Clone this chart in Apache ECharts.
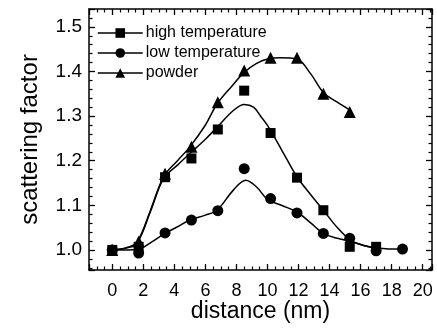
<!DOCTYPE html>
<html>
<head>
<meta charset="utf-8">
<script src="https://cdn.jsdelivr.net/npm/echarts@6/dist/echarts.min.js"></script>
<style>
  html, body { margin: 0; padding: 0; background: #fff; }
  #chart { width: 437px; height: 328px; }
</style>
</head>
<body>
<div id="chart"></div>
<script>
// measured points (distance in nm)
const xPts = [0, 1.7, 3.4, 5.1, 6.8, 8.5, 10.2, 11.9, 13.6, 15.3, 17.0, 18.7];
const highTemp = [1.0, 1.007, 1.163, 1.205, 1.27, 1.357, 1.262, 1.162, 1.089, 1.007, 1.007];
const lowTemp = [1.0, 0.993, 1.038, 1.067, 1.088, 1.182, 1.115, 1.083, 1.037, 1.026, 0.998, 1.002];
const powder = [1.0, 1.019, 1.171, 1.231, 1.331, 1.402, 1.431, 1.431, 1.35, 1.309];

// fitted curves
const highFitX = [0, 0.9, 1.6, 2.45, 3.3, 4.2, 5.0, 6.0, 6.75, 7.8, 8.5, 9.1, 9.55, 10.0, 10.9, 11.9, 12.8, 13.6, 14.5, 15.35, 16.2, 17.1];
const highFitY = [1.0, 1.004, 1.015, 1.085, 1.16, 1.19, 1.216, 1.248, 1.275, 1.3125, 1.326, 1.32, 1.30, 1.279, 1.225, 1.164, 1.123, 1.089, 1.05, 1.022, 1.01, 1.004];
const lowFitX = [0, 0.9, 1.7, 2.5, 3.4, 4.2, 5.0, 6.0, 6.75, 7.8, 8.6, 9.3, 10.0, 10.9, 11.9, 12.8, 13.6, 14.5, 15.35, 16.2, 17.1, 18.8];
const lowFitY = [1.0, 1.0, 1.002, 1.017, 1.037, 1.052, 1.067, 1.078, 1.089, 1.134, 1.156, 1.141, 1.113, 1.1, 1.085, 1.06, 1.037, 1.026, 1.019, 1.01, 1.004, 1.002];
const powderFitX = [0, 0.9, 1.6, 2.45, 3.3, 4.2, 5.0, 6.0, 6.75, 7.7, 8.5, 9.3, 10.0, 10.8, 11.9, 12.8, 13.6, 14.5, 15.35];
const powderFitY = [1.0, 1.005, 1.018, 1.088, 1.164, 1.2, 1.231, 1.28, 1.327, 1.367, 1.398, 1.418, 1.428, 1.431, 1.428, 1.394, 1.353, 1.331, 1.3125];

const xTickLabels = ['0', '2', '4', '6', '8', '10', '12', '14', '16', '18', '20'];
const yTickLabels = ['1.0', '1.1', '1.2', '1.3', '1.4', '1.5'];

const pairs = (xs, ys) => ys.map((y, i) => [xs[i], y]);
const FONT = 'Liberation Sans, Arial, Helvetica, sans-serif';

const labelX = (v) => {
  const s = String(Math.round(v));
  return Math.abs(v - Math.round(v)) < 1e-6 && xTickLabels.includes(s) ? s : '';
};
const labelY = (v) => {
  const s = v.toFixed(1);
  return Math.abs(v * 10 - Math.round(v * 10)) < 1e-6 && yTickLabels.includes(s) ? s : '';
};

const axisLine = { show: true, onZero: false, lineStyle: { color: '#000', width: 1.5 } };
const axisTick = { show: true, inside: true, length: 6, lineStyle: { color: '#000', width: 1.3 } };
const minorTick = (n) => ({ show: true, splitNumber: n, length: 3.5, lineStyle: { color: '#000', width: 1.2 } });

const markSeries = (name, symbol, size, data) => ({
  name,
  type: 'line',
  data,
  symbol,
  symbolSize: size,
  showSymbol: true,
  itemStyle: { color: '#000' },
  lineStyle: { width: 0, opacity: 0 },
  z: 5,
});

const fitSeries = (data) => ({
  type: 'line',
  data,
  smooth: 0.35,
  showSymbol: false,
  symbol: 'none',
  lineStyle: { color: '#000', width: 1.5 },
  silent: true,
  z: 3,
});

const chart = echarts.init(document.getElementById('chart'));
chart.setOption({
  animation: false,
  backgroundColor: '#fff',
  textStyle: { fontFamily: FONT },
  grid: { left: 89, right: 5, top: 9, bottom: 58, outerBoundsMode: 'none', containLabel: false },
  legend: {
    data: ['high temperature', 'low temperature', 'powder'],
    orient: 'vertical',
    left: 92,
    top: 20,
    itemWidth: 45,
    itemHeight: 12,
    itemGap: 4,
    lineStyle: { color: '#000', width: 1.5, opacity: 1 },
    itemStyle: { color: '#000' },
    textStyle: { fontFamily: FONT, fontSize: 16, color: '#000', padding: [0, 0, 0, -2] },
    selectedMode: false,
  },
  xAxis: [
    {
      type: 'value',
      min: -1.5,
      max: 20.6,
      splitNumber: 11,
      name: 'distance (nm)',
      nameLocation: 'middle',
      nameGap: 30,
      nameMoveOverlap: false,
      nameTextStyle: { fontFamily: FONT, fontSize: 23, color: '#000' },
      axisLabel: { formatter: labelX, fontFamily: FONT, fontSize: 18, color: '#000', margin: 12 },
      axisLine, axisTick, minorTick: minorTick(4),
      splitLine: { show: false },
    },
    {
      type: 'value',
      position: 'top',
      min: -1.5,
      max: 20.6,
      splitNumber: 11,
      axisLabel: { show: false },
      axisLine, axisTick, minorTick: minorTick(4),
      splitLine: { show: false },
    },
  ],
  yAxis: [
    {
      type: 'value',
      min: 0.955,
      max: 1.54,
      splitNumber: 6,
      name: 'scattering factor',
      nameLocation: 'middle',
      nameGap: 47,
      nameMoveOverlap: false,
      nameTextStyle: { fontFamily: FONT, fontSize: 24, color: '#000' },
      axisLabel: { formatter: labelY, fontFamily: FONT, fontSize: 19, color: '#000', margin: 7 },
      axisLine, axisTick, minorTick: minorTick(5),
      splitLine: { show: false },
    },
    {
      type: 'value',
      position: 'right',
      min: 0.955,
      max: 1.54,
      splitNumber: 6,
      axisLabel: { show: false },
      axisLine, axisTick, minorTick: minorTick(5),
      splitLine: { show: false },
    },
  ],
  series: [
    fitSeries(pairs(highFitX, highFitY)),
    fitSeries(pairs(lowFitX, lowFitY)),
    fitSeries(pairs(powderFitX, powderFitY)),
    markSeries('high temperature', 'rect', 10, pairs(xPts, highTemp)),
    markSeries('low temperature', 'circle', 11, pairs(xPts, lowTemp)),
    markSeries('powder', 'triangle', 12, pairs(xPts, powder)),
  ],
});
</script>
</body>
</html>
